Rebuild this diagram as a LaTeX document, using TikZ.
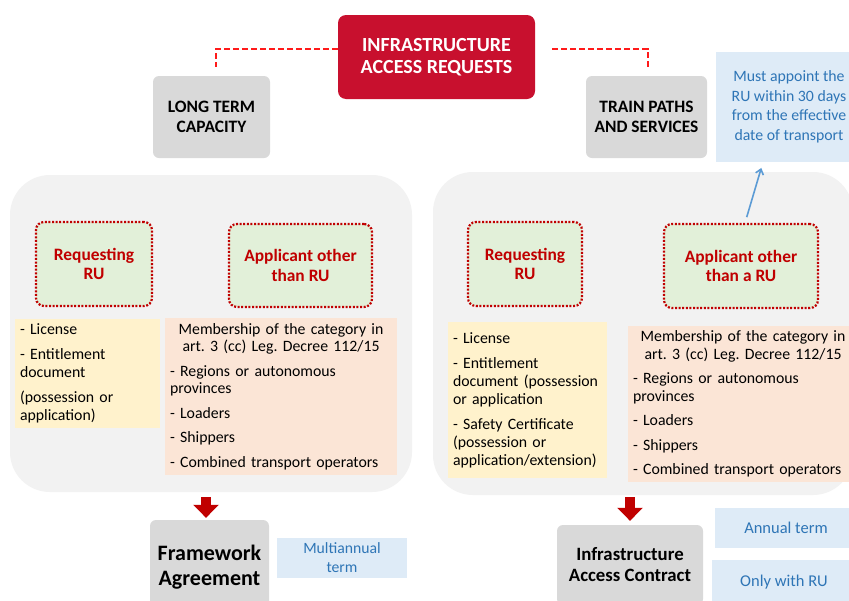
\documentclass[tikz,border=0pt]{standalone}
\usepackage{fontspec}
\setmainfont{Carlito}
\usetikzlibrary{arrows.meta,backgrounds}
\frenchspacing

\definecolor{reqred}{HTML}{C8102E}
\definecolor{dashred}{HTML}{FF1A1A}
\definecolor{dotred}{HTML}{C00000}
\definecolor{boxgray}{HTML}{D9D9D9}
\definecolor{panelgray}{HTML}{F2F2F2}
\definecolor{rolegreen}{HTML}{E2F0D9}
\definecolor{docyellow}{HTML}{FFF2CC}
\definecolor{catsalmon}{HTML}{FBE5D6}
\definecolor{noteblue}{HTML}{DEEBF7}
\definecolor{notetext}{HTML}{2E75B6}
\definecolor{arrowblue}{HTML}{5B9BD5}

\tikzset{
  headbox/.style={fill=boxgray, rounded corners=6pt, inner sep=2pt, align=center,
    font=\fontsize{17.4}{20}\selectfont\bfseries},
  rolebox/.style={fill=rolegreen, draw=dotred, line width=2.2pt, dash pattern=on 2pt off 1.6pt,
    rounded corners=8pt, inner sep=2pt, align=center, text=dotred,
    font=\fontsize{17.4}{19.5}\selectfont\bfseries},
  panel/.style={fill=panelgray, rounded corners=40pt, inner sep=0pt},
  docbox/.style={fill=docyellow, inner sep=5pt, align=left, font=\fontsize{15.8}{18}\selectfont},
  catbox/.style={fill=catsalmon, inner sep=5pt, align=left, font=\fontsize{15.8}{17.5}\selectfont},
  notebox/.style={fill=noteblue, inner sep=2pt, align=center, text=notetext,
    font=\fontsize{16.5}{19.5}\selectfont},
  dashlink/.style={draw=dashred, line width=2.5pt, dash pattern=on 6pt off 3pt},
  bigarrow/.style={draw=dotred, line width=10pt, -{Triangle[width=25pt,length=13pt]}},
}

\begin{document}
\begin{tikzpicture}[x=1pt,y=-1pt]
  \useasboundingbox (0,0) rectangle (849,600);
  \fill[white] (0,0) rectangle (849,600);

  \node[panel, minimum width=402pt, minimum height=317pt] (panelL) at (211,333.5) {};
  \node[panel, minimum width=420pt, minimum height=323pt] (panelR) at (643,333.5) {};

  \node[fill=reqred, rounded corners=8pt, text=white, align=center, minimum width=197pt,
    minimum height=84pt, font=\fontsize{20}{22}\selectfont\bfseries] (req) at (436.5,57)
    {INFRASTRUCTURE\\ACCESS REQUESTS};
  \node[headbox, minimum width=117pt, minimum height=82pt] (ltc) at (211.5,117) {LONG TERM\\CAPACITY};
  \node[headbox, minimum width=121pt, minimum height=82pt] (tps) at (646.5,117) {TRAIN PATHS\\AND SERVICES};
  \node[notebox, minimum width=146pt, minimum height=110pt, font=\fontsize{15.8}{19.5}\selectfont]
    (note) at (789,107) {Must appoint the\\RU within 30 days\\from the effective\\date of transport};

  \draw[dashlink] ([yshift=8pt]req.west) -| ([yshift=9pt,xshift=4.5pt]ltc.north);
  \draw[dashlink] ([yshift=8pt,xshift=17pt]req.east) -| ([yshift=8pt,xshift=1.5pt]tps.north);

  \node[rolebox, minimum width=116pt, minimum height=84pt] (reqL) at (94,264) {Requesting\\RU};
  \node[rolebox, minimum width=143pt, minimum height=83pt] (appL) at (300.5,265.5) {Applicant other\\than RU};
  \node[rolebox, minimum width=114pt, minimum height=84pt] (reqR) at (525,264) {Requesting\\RU};
  \node[rolebox, minimum width=154pt, minimum height=84pt] (appR) at (741,266) {Applicant other\\than a RU};

  \draw[arrowblue, line width=1.6pt, -{Straight Barb[length=5pt,width=8pt]}, shorten <=6pt, shorten >=6pt]
    ([xshift=4pt]appR.north) -- ([xshift=-26pt]note.south);

  \node[docbox, minimum width=145pt, minimum height=103pt, text width=135pt] (docL) at (87.5,373.5)
    {- License\\[7pt]- Entitlement\\document\\[7pt](possession or\\application)};
  \node[catbox, minimum width=232pt, minimum height=157pt, text width=222pt] (catL) at (281,396.5)
    {{\centering Membership of the category in\\art. 3 (cc) Leg. Decree 112/15\par}\vspace{7pt}%
     - Regions or autonomous\\provinces\\[7pt]- Loaders\\[7pt]- Shippers\\[7pt]- Combined transport operators};
  \node[docbox, minimum width=159pt, minimum height=156pt, text width=149pt] (docR) at (527.5,400)
    {- License\\[7pt]- Entitlement\\document (possession\\or application\\[7pt]- Safety Certificate\\(possession or\\application/extension)};
  \node[catbox, minimum width=230pt, minimum height=152pt, text width=220pt] (catR) at (743,404)
    {{\centering Membership of the category in\\art. 3 (cc) Leg. Decree 112/15\par}\vspace{7pt}%
     - Regions or autonomous\\provinces\\[7pt]- Loaders\\[7pt]- Shippers\\[7pt]- Combined transport operators};

  \node[headbox, minimum width=119pt, minimum height=94pt, font=\fontsize{22}{24.5}\selectfont\bfseries]
    (fwk) at (209.5,567) {Framework\\Agreement};
  \node[notebox, minimum width=130pt, minimum height=40pt, font=\fontsize{15.7}{19}\selectfont]
    (multi) at (342,558) {Multiannual\\term};
  \node[headbox, minimum width=146pt, minimum height=80pt, font=\fontsize{18.8}{21}\selectfont\bfseries]
    (iac) at (630,565) {Infrastructure\\Access Contract};
  \node[notebox, minimum width=142pt, minimum height=40pt] (annual) at (786,528) {Annual term};
  \node[notebox, minimum width=144pt, minimum height=44pt] (onlyru) at (784,582) {Only with RU};

  \draw[bigarrow, shorten <=5pt, shorten >=2pt] ([xshift=-3.5pt]fwk.north |- panelL.south) -- ([xshift=-3.5pt]fwk.north);
  \draw[bigarrow, shorten <=2pt, shorten >=4pt] (iac.north |- panelR.south) -- (iac.north);
\end{tikzpicture}
\end{document}
